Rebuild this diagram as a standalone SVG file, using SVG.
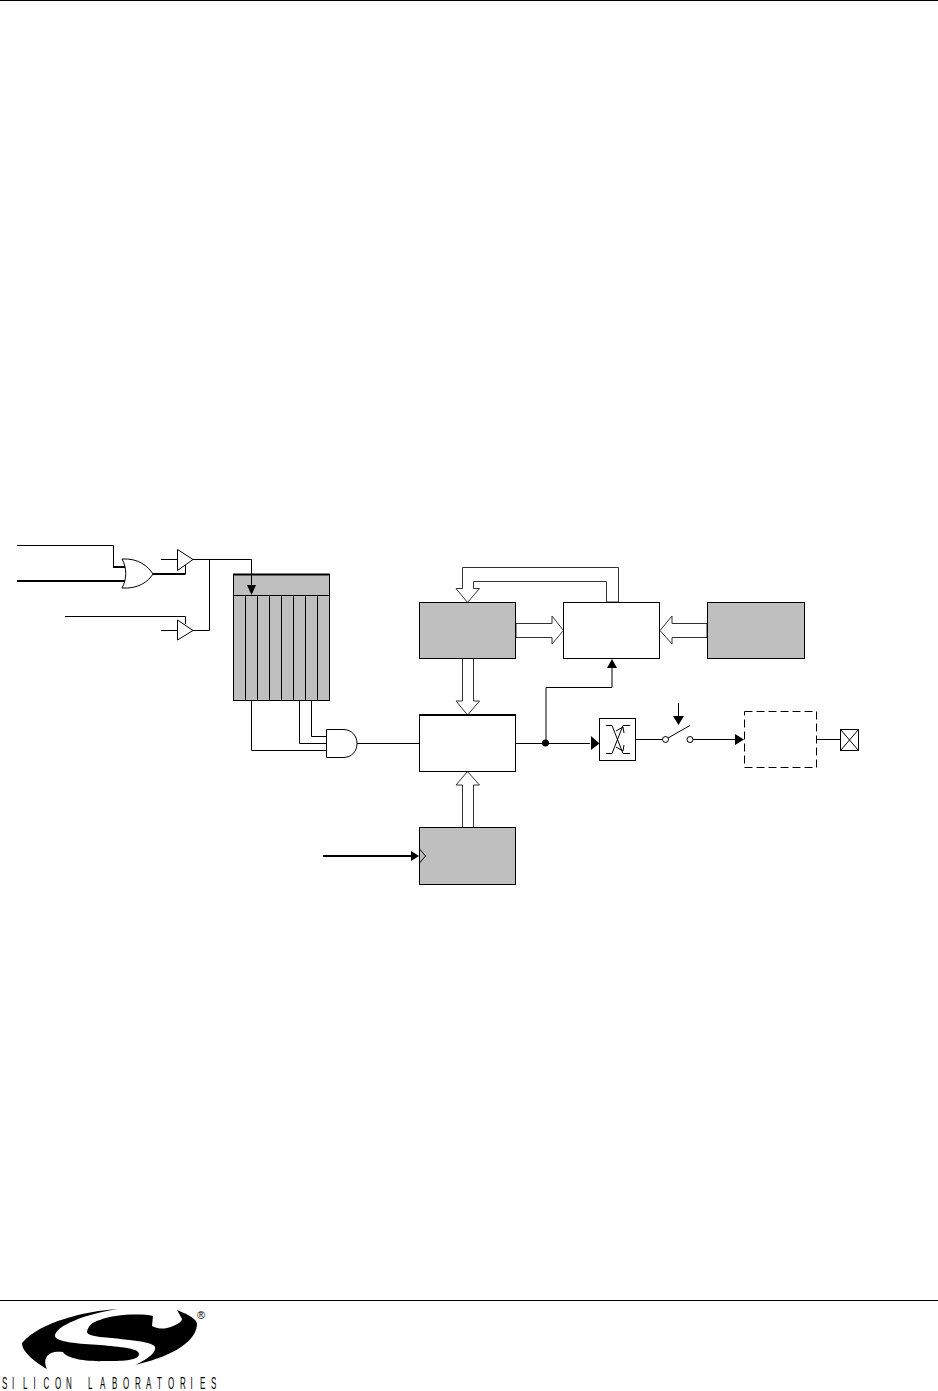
<svg xmlns="http://www.w3.org/2000/svg" width="938" height="1391" viewBox="0 0 938 1391">
<style>
.l{fill:none;stroke:#000;stroke-width:1}
.t{fill:none;stroke:#000;stroke-width:2}
.w{fill:#fff;stroke:#000;stroke-width:1}
.g{fill:#bfbfbf;stroke:#000;stroke-width:1}
.b{fill:#000;stroke:none}
.h{fill:#fff;stroke:#333;stroke-width:1}
</style>
<rect width="938" height="1391" fill="#fff"/>
<g id="page-rules">
<path class="l" d="M0 .5H938M0 1300.5H938"/>
</g>
<g id="connectors">
<path class="l" d="M17 545.5H113.5V567"/>
<path class="t" d="M113 567H125M17 581H125M153 574H185.500"/>
<path class="l" d="M185.500 574V565M161 559.500H177M193 559.500H251.500V584M209.500 559.500V630.500H193M65 616.500H185.500V624M161 630.500H177"/>
<path class="l" d="M251.500 700V750.500H326M299.500 700V743.500H326M311.500 700V736.500H326M357 743.500H419"/>
<path class="l" d="M516 743.500H590M546 743V687.500H612V668M636 739.500H663M693 739.500H735M678.500 703V716M816 739.500H840"/>
<path class="t" d="M323 856H412"/>
<path class="b" d="M246 584H257L251.500 595ZM607 668H617L612 659ZM591 736L591 750L599.500 743.500ZM735 734V745L744 739.500ZM673 716H684L678.500 725ZM411 851V861L419 856Z"/>
</g>
<g id="hollow-arrows">
<path class="h" d="M618.500 602V567.500H462.500V588.500H456L467.500 602.500L479.500 588.500H473.500V581.500H606.500V602Z"/>
<path class="h" d="M516 623.500H552V616L563.500 630.500L552 644V637.500H516Z"/>
<path class="h" d="M707 623.500H672V616L660 630.500L672 644V637.500H707Z"/>
<path class="h" d="M462.500 658.500V701H456L467.500 715L479.500 701H473.500V658.500Z"/>
<path class="h" d="M462.500 827.500V785H456L467.500 771.500L479.500 785H473.500V827.500Z"/>
</g>
<g id="or-gate">
<path class="w" d="M122 559C138 558 148 566 153 574C148 582 138 589 122 588C127 579 127 568 122 559Z"/>
</g>
<g id="buffer-1"><path class="w" d="M177.500 549.500V570.500L193 559.500Z"/></g>
<g id="buffer-2"><path class="w" d="M177.500 620V640L193 630.500Z"/></g>
<g id="register-table">
<rect class="g" x="233.500" y="574.500" width="96" height="126"/>
<path class="t" d="M233 574.500H330"/>
<path class="l" d="M233.500 595.500H329.500M245.500 595.500V700M257.500 595.500V700M269.500 595.500V700M281.500 595.500V700M293.500 595.500V700M305.500 595.500V700M317.500 595.500V700"/>
<path class="l" d="M251.500 574V586"/>
<path class="b" d="M247 585H256L251.500 595Z"/>
</g>
<g id="and-gate"><path class="w" d="M326.500 729.500H343C352 729.500 357 736 357 743.500C357 751 352 757.500 343 757.500H326.500Z"/></g>
<g id="block-a"><rect class="g" x="419.500" y="602.500" width="96" height="56"/></g>
<g id="block-b"><rect class="w" x="563.500" y="602.500" width="96" height="56"/></g>
<g id="block-c"><rect class="g" x="707.500" y="602.500" width="97" height="56"/></g>
<g id="block-d"><rect class="w" x="419.500" y="715.500" width="96" height="56"/><path class="t" d="M419 715H516"/></g>
<g id="block-e"><rect class="g" x="419.500" y="827.500" width="96" height="57"/><path class="l" d="M419.500 849L425.500 856L419.500 863"/></g>
<g id="node-dot"><circle class="b" cx="545.500" cy="743" r="3.500"/></g>
<g id="crossbar">
<rect class="w" x="599.500" y="718.500" width="36" height="42"/>
<path class="l" d="M606 725.500H612L623 753.500H630M630 725.500H623L612 753.500H606M616 731L623 727L624 733M616 747L623 751L624 745"/>
</g>
<g id="switch">
<path class="l" d="M668 738L690 725.500"/>
<circle class="w" cx="665.500" cy="739.500" r="3"/>
<circle class="w" cx="690" cy="739.500" r="3"/>
</g>
<g id="dashed-block"><rect x="744.500" y="711.500" width="72" height="56" fill="#fff" stroke="#000" stroke-width="1" stroke-dasharray="8 4"/></g>
<g id="pin"><rect class="w" x="840.500" y="729.500" width="18" height="21"/><path class="l" d="M840.500 729.500L858.500 750.500M858.500 729.500L840.500 750.500"/></g>
<g id="logo">
<path class="b" d="M118 1309C85 1311 40 1322 22 1343C22 1352 35 1362 47 1369C42 1358 48 1350 63 1352C66 1358 85 1362 105 1361C120 1361 139 1361 139 1354C139 1348 120 1347 100 1345C80 1344 55 1342 55 1336C55 1326 85 1314 118 1309Z"/>
<path class="b" d="M177 1310C190 1315 198 1320 197 1325C195 1345 165 1358 135 1365C150 1358 156 1352 155 1347C153 1342 133 1340 100 1337C92 1336 87 1334 87 1332C88 1326 92 1322 100 1320C110 1315 140 1313 153 1316L152 1326C158 1329 163 1329 167 1328C175 1326 182 1322 182 1319Z"/>
<text x="197" y="1319" font-family="'Liberation Sans',sans-serif" font-size="11">®</text>
<text transform="scale(.5 1)" x="4 24 46 67 87 110 132 154 176 200 224 246 270 292 314 336 360 381 400 422" y="1389" font-family="'Liberation Sans',sans-serif" font-size="16">SILICON LABORATORIES</text>
</g>
</svg>
